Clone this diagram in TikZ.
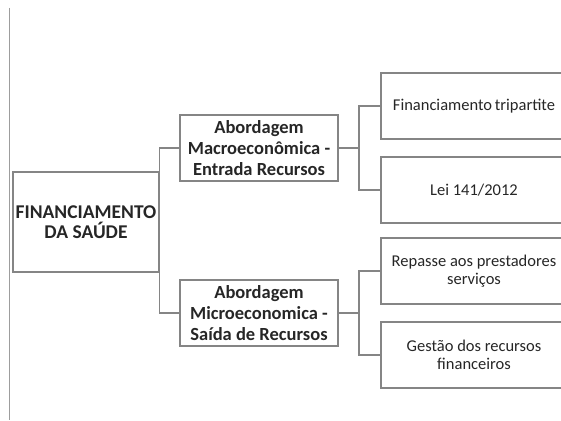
\documentclass[tikz,border=0pt]{standalone}
\usepackage{fontspec}
\setmainfont{Carlito}
\usepackage{xcolor}
\definecolor{linegray}{HTML}{858585}
\definecolor{textgray}{HTML}{262626}

\begin{document}
\begin{tikzpicture}[x=1pt,y=-1pt,
    box/.style={draw=linegray,line width=1.3pt,text=textgray,align=center,inner sep=2pt},
    topbox/.style={box,font=\bfseries\fontsize{19.5}{20}\selectfont,minimum width=146pt,minimum height=100pt},
    midbox/.style={box,font=\bfseries\fontsize{18.5}{21}\selectfont,minimum width=158pt,minimum height=66pt},
    leafbox/.style={box,font=\fontsize{16.5}{17.5}\selectfont,minimum width=186pt,minimum height=66pt},
    link/.style={draw=linegray,line width=1.3pt}]
    \useasboundingbox (0,0) rectangle (561,420);
    \clip (0,0) rectangle (561,420);

    % page edge line
    \draw[linegray!80,line width=1pt](9,8)--(9,420);

    \node[topbox](root) at (86,222) {FINANCIAMENTO\\DA SAÚDE};
    \node[midbox](macro) at (259,148) {Abordagem\\Macroeconômica -\\Entrada Recursos};
    \node[midbox](micro) at (259,313) {Abordagem\\Microeconomica -\\Saída de Recursos};

    \node[leafbox](tri) at (474,106) {Financiamento\,tripartite};
    \node[leafbox](lei) at (474,190) {Lei 141/2012};
    \node[leafbox](repasse) at (474,271) {Repasse aos prestadores\\serviços};
    \node[leafbox](gestao) at (474,355) {Gestão dos recursos\\financeiros};

    \coordinate (jmacro) at (359,148);
    \coordinate (jmicro) at (359,313);

    \draw[link](root.north east) |- (macro.west);
    \draw[link](root.south east) |- (micro.west);

    \draw[link](macro.east) -- (jmacro);
    \draw[link](tri.west) -| (jmacro) |- (lei.west);
    \draw[link](micro.east) -- (jmicro);
    \draw[link](repasse.west) -| (jmicro) |- (gestao.west);
\end{tikzpicture}
\end{document}
